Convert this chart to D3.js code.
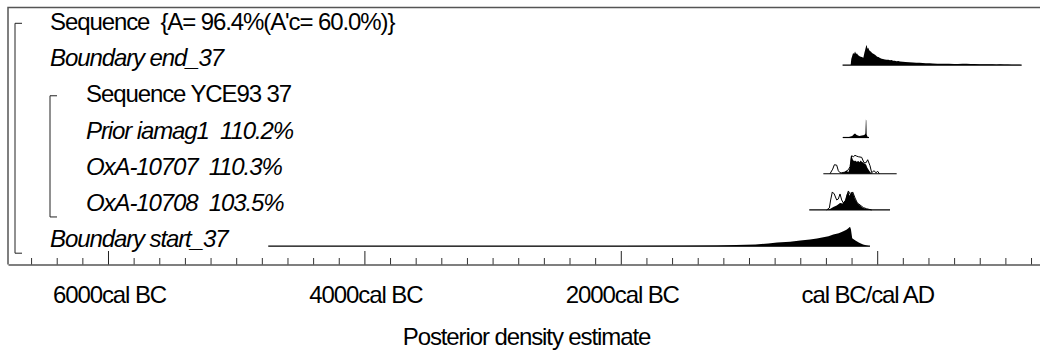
<!DOCTYPE html>
<html>
<head>
<meta charset="utf-8">
<script src="https://cdn.jsdelivr.net/npm/d3@7"></script>
<style>
  body { margin: 0; background: #fff; }
  text { font-family: "Liberation Sans", Arial, sans-serif; }
</style>
</head>
<body>
<div id="chart"></div>
<script>
// row labels, top to bottom
var labels = ["Sequence  {A= 96.4%(A'c= 60.0%)}", "Boundary end_37", "Sequence YCE93 37",
  "Prior iamag1  110.2%", "OxA-10707  110.3%", "OxA-10708  103.5%", "Boundary start_37"]
var italic = [false, true, false, true, true, true, true]
var indent = [0, 0, 1, 1, 1, 1, 0]

var majorTicks = [-6000, -4000, -2000, 0]
var tickLabels = ["6000cal BC", "4000cal BC", "2000cal BC", "cal BC/cal AD"]
var minorTicks = [-6600, -6400, -6200, -5800, -5600, -5400, -5200, -5000, -4800, -4600, -4400, -4200,
  -3800, -3600, -3400, -3200, -3000, -2800, -2600, -2400, -2200, -1800, -1600, -1400, -1200, -1000,
  -800, -600, -400, -200, 200, 400, 600, 800, 1000, 1200]

// [year, relative density]
var endBoundary = [[-270, 0], [-207, 0], [-202, 0.3], [-195, 0.45], [-188, 0.6], [-180, 0.55], [-173, 0.68],
  [-165, 0.56], [-157, 0.58], [-150, 0.5], [-142, 0.47], [-134, 0.43], [-120, 0.4], [-108, 0.36], [-100, 0.6],
  [-92, 0.8], [-86, 0.95], [-82, 1.0], [-76, 0.82], [-70, 0.86], [-62, 0.74], [-56, 0.7], [-48, 0.66],
  [-40, 0.6], [-30, 0.57], [-17, 0.52], [-8, 0.47], [0, 0.42], [10, 0.4], [22, 0.35], [35, 0.32], [45, 0.3],
  [60, 0.28], [74, 0.27], [88, 0.26], [100, 0.24], [112, 0.25], [124, 0.22], [138, 0.21], [150, 0.19],
  [165, 0.2], [178, 0.18], [200, 0.16], [220, 0.15], [250, 0.14], [280, 0.13], [305, 0.12], [330, 0.11],
  [355, 0.1], [380, 0.09], [410, 0.09], [435, 0.08], [470, 0.07], [500, 0.07], [530, 0.06], [560, 0.06],
  [600, 0.05], [630, 0.05], [665, 0.06], [698, 0.06], [730, 0.05], [760, 0.05], [800, 0.04], [830, 0.04],
  [870, 0.04], [900, 0.04], [930, 0.03], [958, 0.04], [990, 0.03], [1020, 0.03], [1050, 0.02],
  [1080, 0.02], [1110, 0.02], [1127, 0]]
var endRange = [-270, 1127]

var priorFill = [[-243, 0], [-220, 0.03], [-195, 0.08], [-180, 0.17], [-173, 0.2], [-160, 0.12], [-140, 0.08],
  [-120, 0.1], [-100, 0.12], [-92, 0.2], [-88, 0.9], [-85, 0.85], [-82, 0.15], [-76, 0.05], [-70, 0]]
var priorRange = [-269, -64]

var oxa07Prior = [[-368, 0], [-347, 0.23], [-334, 0.45], [-316, 0.43], [-303, 0.15], [-290, 0.05], [-277, 0.05],
  [-251, 0.08], [-225, 0.2], [-212, 0.35], [-199, 0.9], [-186, 0.85], [-173, 0.92], [-160, 0.88], [-147, 0.85],
  [-121, 0.82], [-103, 0.55], [-87, 0.55], [-74, 0.7], [-56, 0.4], [-43, 0.05], [-25, 0.15], [-9, 0.05],
  [4, 0.12], [17, 0]]
var oxa07Post = [[-290, 0], [-264, 0.05], [-238, 0.15], [-225, 0.08], [-212, 0.35], [-205, 0.9], [-199, 0.88],
  [-190, 0.7], [-180, 0.62], [-173, 0.66], [-160, 0.6], [-147, 0.64], [-138, 0.58], [-129, 0.66], [-120, 0.6],
  [-113, 0.58], [-104, 0.52], [-95, 0.5], [-86, 0.45], [-77, 0.3], [-62, 0.15], [-48, 0.04], [-35, 0]]
var oxa07Range = [-420, 152]

var oxa08Prior = [[-394, 0], [-373, 0.1], [-363, 0.5], [-350, 0.9], [-335, 0.8], [-316, 0.5], [-303, 0.55],
  [-290, 0.8], [-277, 0.5], [-264, 0.35], [-243, 0.5], [-225, 0.95], [-207, 0.75], [-191, 0.9], [-173, 0.6],
  [-155, 0.35], [-134, 0.25], [-108, 0.12], [-82, 0.06], [-56, 0.02], [-43, 0]]
var oxa08Post = [[-389, 0], [-368, 0.05], [-342, 0.15], [-316, 0.22], [-300, 0.3], [-290, 0.35], [-269, 0.32],
  [-251, 0.48], [-238, 0.78], [-225, 0.92], [-218, 0.75], [-212, 0.72], [-205, 0.9], [-199, 0.88],
  [-186, 0.8], [-173, 0.55], [-155, 0.35], [-134, 0.22], [-120, 0.15], [-108, 0.1], [-82, 0.05],
  [-56, 0.02], [-43, 0]]
var oxa08Range = [-530, 100]

var startBoundary = [[-4750, 0], [-3000, 0.01], [-2000, 0.015], [-1500, 0.025], [-1250, 0.04], [-1100, 0.06],
  [-950, 0.09], [-850, 0.13], [-780, 0.18], [-680, 0.22], [-600, 0.28], [-524, 0.33], [-470, 0.38],
  [-420, 0.45], [-380, 0.5], [-342, 0.58], [-300, 0.65], [-264, 0.75], [-240, 0.82], [-225, 0.9],
  [-212, 0.97], [-205, 0.85], [-195, 0.4], [-170, 0.28], [-140, 0.17], [-110, 0.09], [-80, 0.03], [-56, 0]]
var startRange = [-4750, -56]

var w = 1040, h = 354
var svg = d3.select('#chart').append('svg')
    .attr('width', w)
    .attr('height', h)

var x = d3.scaleLinear().domain([-6780, 1270]).range([8, 1040])
var rowY = d3.scaleLinear().domain([0, 6]).range([29.3, 246.7])
var dens = d3.scaleLinear().domain([0, 1]).range([0, 20])
var axisY = 264.5
var fontSize = 24, spacing = -1.1

// frame
svg.append("path")
    .attr("d", "M8," + axisY + "V7.5H1040")
    .attr("fill", "none")
    .attr("stroke", "#555")
    .attr("stroke-width", 1.5)

// brackets
function bracket(bx, r0, r1) {
  var y0 = rowY(r0) - 6, y1 = rowY(r1) + 6.5
  svg.append("path")
      .attr("d", "M" + (bx + 7) + "," + y0 + "H" + bx + "V" + y1 + "H" + (bx + 7))
      .attr("fill", "none")
      .attr("stroke", "#222")
      .attr("stroke-width", 1)
}
bracket(15, 0, 6)
bracket(50, 2, 5)

// labels
svg.selectAll(".label")
  .data(labels)
  .enter().append("text")
    .attr("class", "label")
    .attr("x", function(d, i) {return indent[i] ? 86 : 50})
    .attr("y", function(d, i) {return rowY(i) + 0.5})
    .attr("font-size", fontSize)
    .attr("letter-spacing", spacing)
    .style("white-space", "pre")
    .style("font-style", function(d, i) {return italic[i] ? "italic" : "normal"})
    .text(function(d) {return d})

var dists = [
  {row: 1, range: endRange, fill: endBoundary},
  {row: 3, range: priorRange, fill: priorFill},
  {row: 4, range: oxa07Range, fill: oxa07Post, outline: oxa07Prior},
  {row: 5, range: oxa08Range, fill: oxa08Post, outline: oxa08Prior},
  {row: 6, range: startRange, fill: startBoundary}
]

dists.forEach(function(dd) {
  var base = rowY(dd.row) - 0.5
  var area = d3.area()
      .x(function(d) {return x(d[0])})
      .y0(base)
      .y1(function(d) {return base - dens(d[1])})
  var line = d3.line()
      .x(function(d) {return x(d[0])})
      .y(function(d) {return base - dens(d[1])})
  var g = svg.append("g")
  g.append("path")
      .attr("d", area(dd.fill))
      .attr("fill", "#000")
  if (dd.outline) {
    g.append("path")
        .attr("d", line(dd.outline))
        .attr("fill", "none")
        .attr("stroke", "#000")
        .attr("stroke-width", 1)
  }
  g.append("line")
      .attr("x1", x(dd.range[0]))
      .attr("x2", x(dd.range[1]))
      .attr("y1", base)
      .attr("y2", base)
      .attr("stroke", "#000")
      .attr("stroke-width", 1.2)
})

// axis
var minorAxis = svg.append("g")
    .attr("transform", "translate(0," + axisY + ")")
    .call(d3.axisBottom(x).tickValues(minorTicks).tickSizeInner(-6.5).tickSizeOuter(0).tickFormat(""))
minorAxis.select(".domain")
    .attr("stroke", "#555")
    .attr("stroke-width", 1.5)
minorAxis.selectAll(".tick line").attr("stroke", "#333")

var majorAxis = svg.append("g")
    .attr("transform", "translate(0," + axisY + ")")
    .call(d3.axisBottom(x).tickValues(majorTicks).tickSizeInner(-13.5).tickSizeOuter(0).tickPadding(21.5)
      .tickFormat(function(d, i) {return tickLabels[i]}))
majorAxis.select(".domain").remove()
majorAxis.selectAll(".tick line").attr("stroke", "#222")
majorAxis.selectAll(".tick text")
    .attr("font-size", fontSize)
    .attr("letter-spacing", spacing)
    .attr("font-family", "'Liberation Sans', Arial, sans-serif")
    .attr("fill", "#000")
    .attr("dx", function(d) {return d === 0 ? -10 : 1})

svg.append("text")
    .attr("x", 526.5)
    .attr("y", 345)
    .attr("text-anchor", "middle")
    .attr("font-size", fontSize)
    .attr("letter-spacing", spacing)
    .text("Posterior density estimate")
</script>
</body>
</html>
